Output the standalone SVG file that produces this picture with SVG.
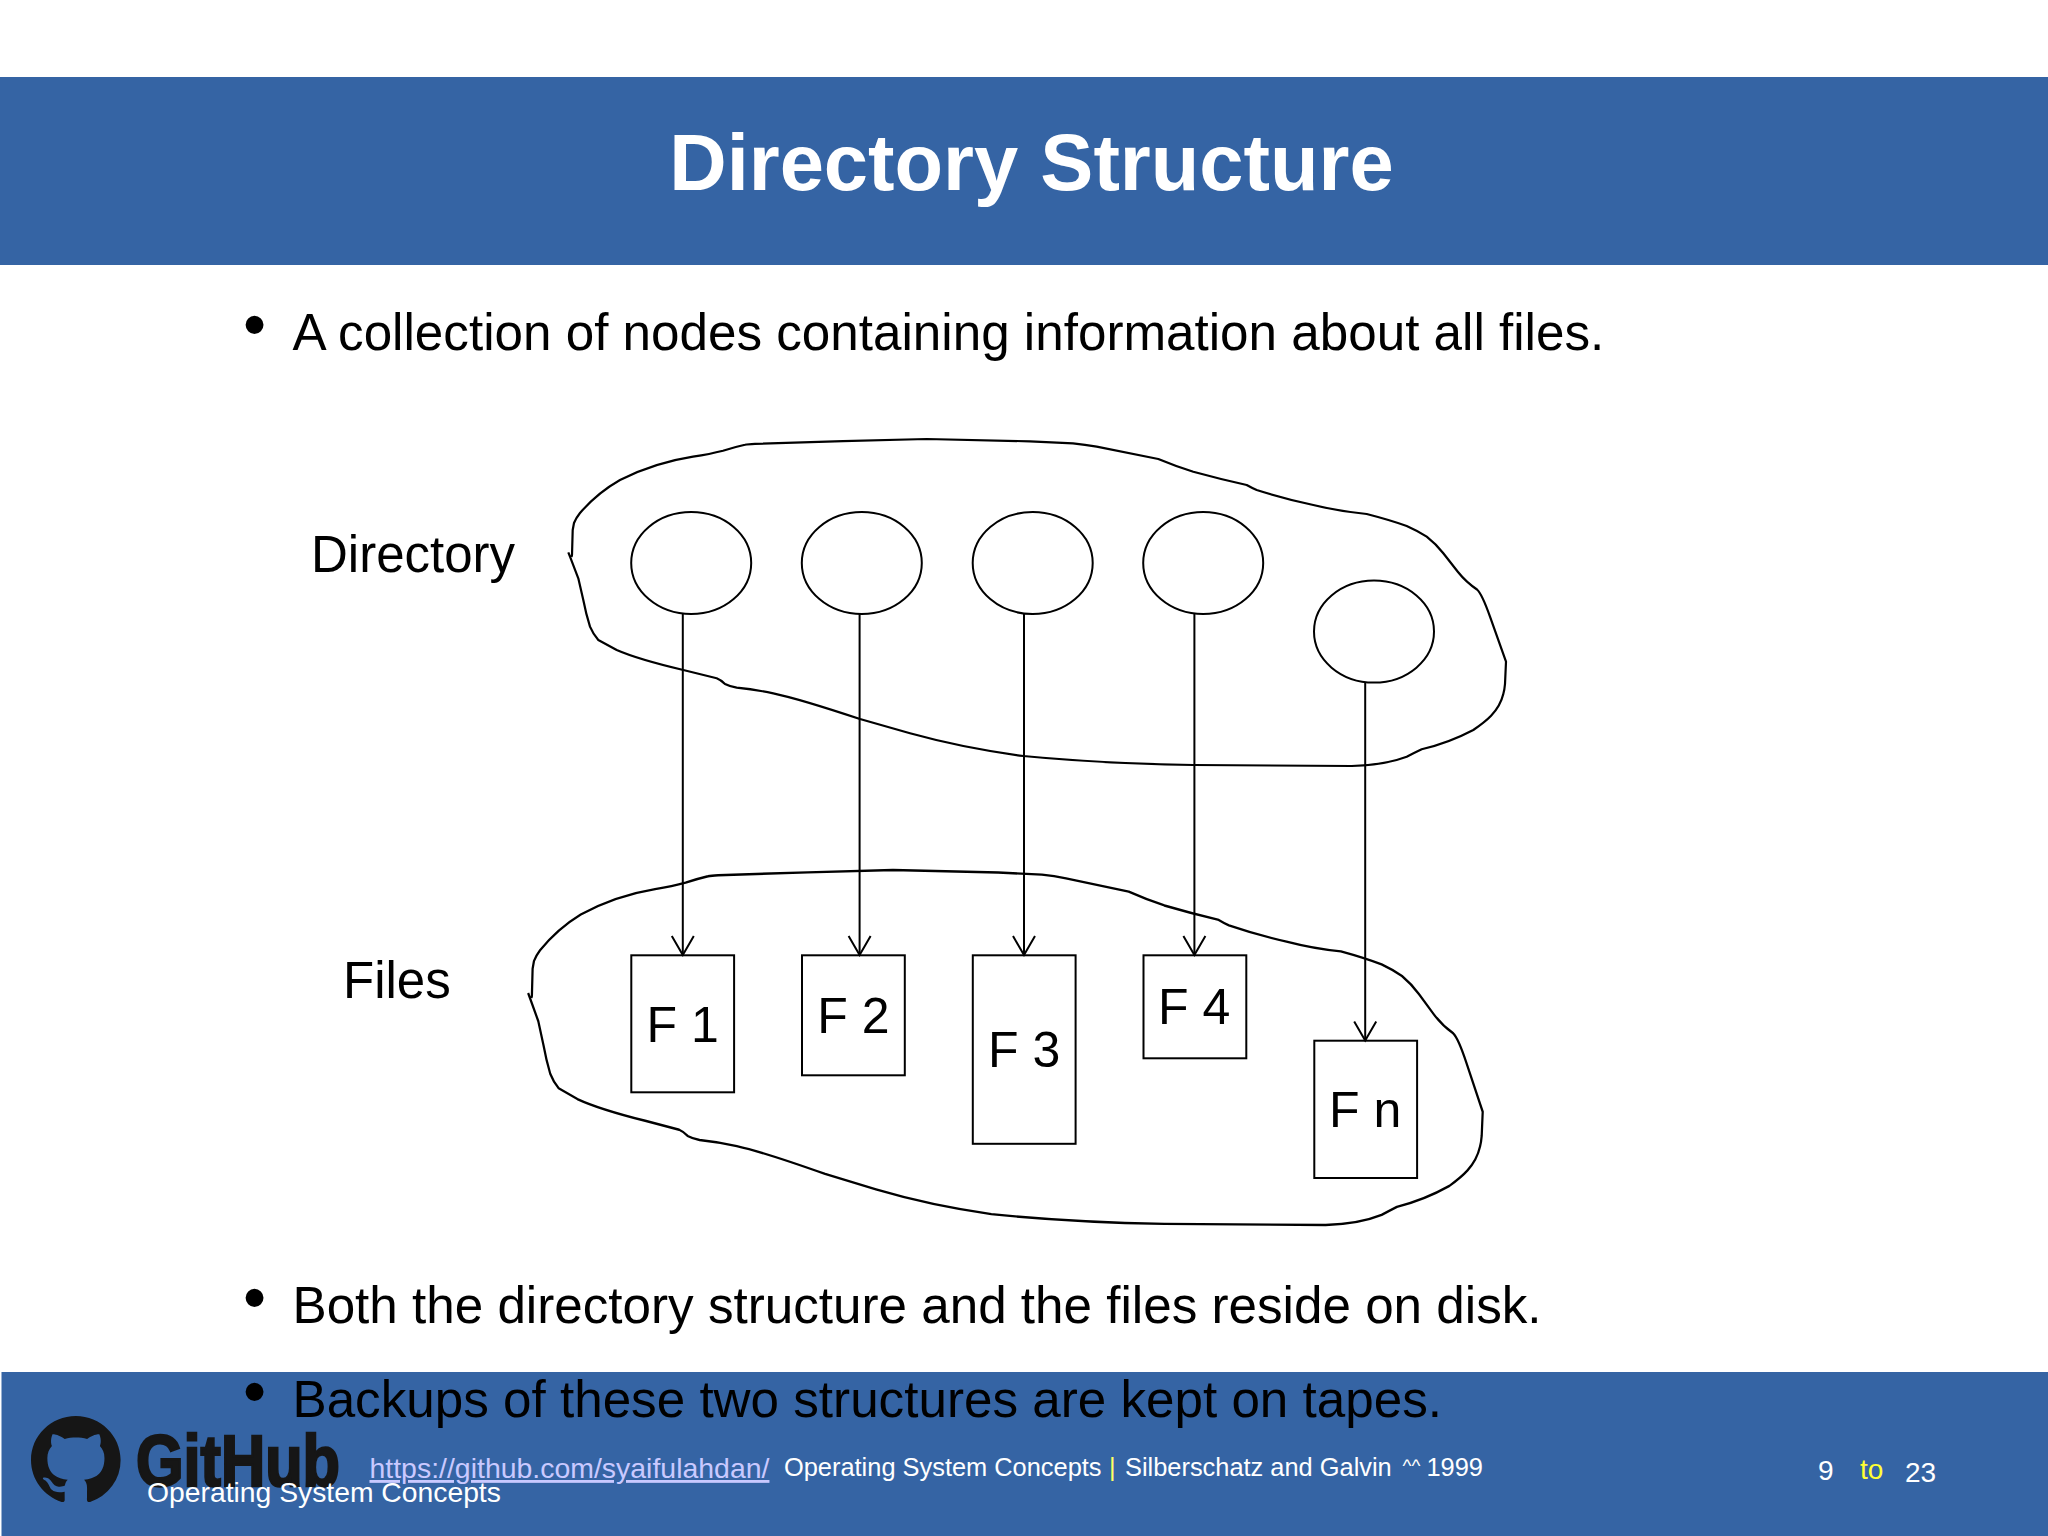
<svg xmlns="http://www.w3.org/2000/svg" xmlns:xlink="http://www.w3.org/1999/xlink" width="2048" height="1536" viewBox="0 0 2048 1536">
<style>
text{font-family:"Liberation Sans",Arial,sans-serif}
.bar{fill:#3564a4}
.body{font-size:51.2px;fill:#000}
.lab{font-size:51px;fill:#000}
.flab{font-size:50px;fill:#000}
.shape{fill:none;stroke:#000;stroke-width:2}
.blob{fill:none;stroke:#000;stroke-width:2.2;stroke-linejoin:round;vector-effect:non-scaling-stroke}
.conn{fill:none;stroke:#000;stroke-width:2;marker-end:url(#open)}
.foot{fill:#fff;font-size:25.400px}
.num{font-size:28px;fill:#fff}
</style>
<defs>
<marker id="open" markerUnits="userSpaceOnUse" markerWidth="24" markerHeight="26" refX="21" refY="13" orient="auto" viewBox="0 0 24 26"><path d="M2 2L21 13L2 24" fill="none" stroke="#000" stroke-width="2"/></marker>
<path id="blobshape" d="M571.500 557L572 555L572.700 530L574 523Q576 518 580 513C592 499 606 488 620 480C640 470 665 461 693 456.700Q710 454 723 450.700Q735 447 745 444.800Q748 444 755 443.800L843 441.200L926.700 439L1030 441.300L1073 443.300Q1085 444.500 1096.700 446.700L1158.300 459Q1175 466 1193.300 471.700Q1220 479 1246.700 485Q1252 488 1256.700 490Q1285 499 1313.300 505Q1340 511.500 1366.700 514Q1390 520 1406.700 526Q1418 531 1426.700 536.700Q1436 544 1443.300 553.300L1458 572Q1466 582 1477 589.500Q1482 594 1490 616.700L1506 661.700L1505 684Q1504.500 690 1503.300 694C1499 712 1485 722 1473.300 730C1460 737 1440 745 1421.700 749.300Q1414 753 1406.700 756.700C1390 763 1370 765.500 1351.700 766L1193.300 765C1135 764 1075 761 1023.300 756C985 751 945 743 910 733.300L860 719C830 709 800 699 773.300 693.300Q755 689.500 736.700 687.700Q730 686.500 725 684Q721 680 716.700 678.300L683.300 670C660 664.500 635 658 616.700 650L598.300 640Q593 634 590 626.700Q586 614 583.300 600L578.300 578.300L570 556.700L568.300 552.300"/>
</defs>
<rect width="2048" height="1536" fill="#fff"/>
<rect id="header" class="bar" x="0" y="77" width="2048" height="188"/>
<text id="title" x="1031.500" y="190" text-anchor="middle" font-size="79.500" font-weight="bold" fill="#fff">Directory Structure</text>
<g id="bullet-1"><text x="243" y="347" font-size="66">•</text><text class="body" x="292.500" y="349.500">A collection of nodes containing information about all files.</text></g>
<use id="directory-blob" xlink:href="#blobshape" href="#blobshape" class="blob"/>
<use id="files-blob" xlink:href="#blobshape" href="#blobshape" class="blob" transform="matrix(1.018 0 0 1.0856 -50.400 393.400)"/>
<text id="label-directory" class="lab" x="311" y="572">Directory</text>
<text id="label-files" class="lab" x="343" y="998">Files</text>
<g id="dir-1"><ellipse class="shape" cx="691.200" cy="563" rx="60" ry="51"/></g>
<g id="dir-2"><ellipse class="shape" cx="861.800" cy="563" rx="60" ry="51"/></g>
<g id="dir-3"><ellipse class="shape" cx="1032.700" cy="563" rx="60" ry="51"/></g>
<g id="dir-4"><ellipse class="shape" cx="1203.200" cy="563" rx="60" ry="51"/></g>
<g id="dir-5"><ellipse class="shape" cx="1374" cy="631.600" rx="60" ry="51"/></g>
<g id="file-1"><rect class="shape" x="631.300" y="955.300" width="102.800" height="137"/><text class="flab" x="646.500" y="1041.700">F 1</text></g>
<g id="file-2"><rect class="shape" x="802" y="955.300" width="102.800" height="120"/><text class="flab" x="817.300" y="1032.700">F 2</text></g>
<g id="file-3"><rect class="shape" x="972.800" y="955.300" width="102.800" height="188.500"/><text class="flab" x="988" y="1067">F 3</text></g>
<g id="file-4"><rect class="shape" x="1143.500" y="955.300" width="102.800" height="103"/><text class="flab" x="1158" y="1024">F 4</text></g>
<g id="file-n"><rect class="shape" x="1314.300" y="1040.700" width="102.800" height="137.300"/><text class="flab" x="1329" y="1126.700">F n</text></g>
<g id="connectors">
<path class="conn" d="M682.800 614V955"/>
<path class="conn" d="M859.600 614V955"/>
<path class="conn" d="M1024 614V955"/>
<path class="conn" d="M1194.400 614V955"/>
<path class="conn" d="M1365.200 682.800V1040.500"/>
</g>
<g id="bullet-2"><text x="243" y="1320" font-size="66">•</text><text class="body" x="292.500" y="1322.500">Both the directory structure and the files reside on disk.</text></g>
<rect id="footer" class="bar" x="1.500" y="1372" width="2046.500" height="164"/>
<g id="bullet-3"><text x="243" y="1414" font-size="66">•</text><text class="body" x="292.500" y="1416.500">Backups of these two structures are kept on tapes.</text></g>
<g id="github-logo">
<path fill="#161616" fill-rule="evenodd" transform="translate(31 1416) scale(5.600 5.500)" d="M8 0C3.580 0 0 3.580 0 8c0 3.540 2.290 6.530 5.470 7.630.4.070.55-.17.55-.38 0-.19-.01-.82-.01-1.490-2.010.37-2.530-.49-2.690-.94-.09-.23-.48-.94-.82-1.130-.28-.15-.68-.52-.01-.53.63-.01 1.080.58 1.230.82.72 1.210 1.870.87 2.330.66.07-.52.28-.87.51-1.070-1.780-.2-3.640-.89-3.640-3.950 0-.87.31-1.590.82-2.150-.08-.2-.36-1.020.08-2.120 0 0 .67-.21 2.200.82.64-.18 1.320-.27 2-.27.68 0 1.360.09 2 .27 1.530-1.040 2.200-.82 2.200-.82.44 1.100.16 1.920.08 2.120.51.56.82 1.270.82 2.150 0 3.070-1.870 3.750-3.650 3.950.29.25.54.73.54 1.480 0 1.070-.01 1.930-.01 2.200 0 .21.15.46.55.38A8.013 8.013 0 0016 8c0-4.420-3.580-8-8-8z"/>
<text x="136" y="1486" font-size="72" font-weight="bold" fill="#161616" stroke="#161616" stroke-width="2.500" textLength="204" lengthAdjust="spacingAndGlyphs">GitHub</text>
</g>
<g id="footer-text">
<text x="369.500" y="1478" font-size="28.450" fill="#c9c9ff" text-decoration="underline">https://github.com/syaifulahdan/</text>
<text class="foot" x="784" y="1476">Operating System Concepts</text>
<text x="1109" y="1476" font-size="25.400" fill="#ffff66">|</text>
<text class="foot" x="1125" y="1476">Silberschatz and Galvin <tspan x="1402.500" dy="-4" font-size="19">^^</tspan><tspan x="1426.500" dy="4">1999</tspan></text>
<text x="147" y="1502" font-size="28.300" fill="#fff">Operating System Concepts</text>
<text class="num" x="1818" y="1480">9</text>
<text class="num" x="1860" y="1479" style="fill:#ffff33">to</text>
<text class="num" x="1905" y="1482">23</text>
</g>
</svg>
